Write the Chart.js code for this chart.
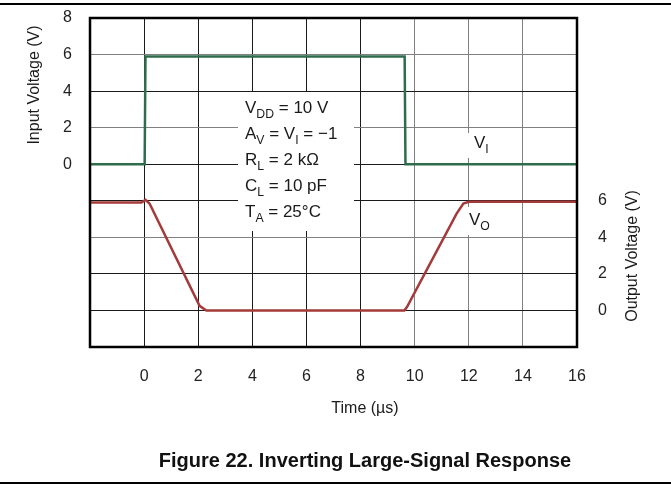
<!DOCTYPE html>
<html>
<head>
<meta charset="utf-8">
<script src="https://cdn.jsdelivr.net/npm/chart.js@4"></script>
<style>
    html, body { margin: 0; padding: 0; background: #fff; }
    #wrap { position: relative; width: 671px; height: 499px; overflow: hidden; }
    #chart { position: absolute; left: 0; top: 0; }
    .rule { position: absolute; left: 0; width: 671px; height: 2px; background: #000; }
    #caption {
        position: absolute; left: 0; top: 449px; width: 730px; line-height: 24px;
        text-align: center; font: bold 20px "Liberation Sans", Arial, sans-serif; color: #111;
    }
</style>
</head>
<body>
<div id="wrap">
    <div class="rule" style="top:3px"></div>
    <canvas id="chart" width="671" height="499"></canvas>
    <div id="caption">Figure 22. Inverting Large-Signal Response</div>
    <div class="rule" style="top:482px"></div>
</div>
<script>
// data
const inputTime = [-2, 0.02, 0.05, 9.63, 9.66, 16];
const inputVolt = [0, 0, 5.9, 5.9, 0, 0];

const outputTime = [-2, -0.1, 0.05, 0.2, 2.05, 2.3, 9.62, 9.72, 11.55, 11.8, 12.0, 16];
const outputVolt = [5.9, 5.9, 6.05, 5.85, 0.25, 0, 0, 0.2, 5.3, 5.85, 5.95, 5.95];

const timeLabels = [0, 2, 4, 6, 8, 10, 12, 14, 16];
const inputLabels = [0, 2, 4, 6, 8];
const outputLabels = [0, 2, 4, 6];

const conditions = [
    [["V"], ["DD", 1], [" = 10 V"]],
    [["A"], ["V", 1], [" = V"], ["I", 1], [" = \u22121"]],
    [["R"], ["L", 1], [" = 2 k\u03A9"]],
    [["C"], ["L", 1], [" = 10 pF"]],
    [["T"], ["A", 1], [" = 25\u00B0C"]]
];

const FONT = '"Liberation Sans", Arial, sans-serif';
const GREEN = "#2e6c4c";
const RED = "#a53a3a";

const toPoints = (xs, ys) => xs.map((x, i) => ({ x, y: ys[i] }));

// text with subscripts
function drawSub(ctx, x, y, parts, size) {
    parts.forEach(([txt, sub]) => {
        ctx.font = (sub ? size * 0.72 : size) + "px " + FONT;
        ctx.fillText(txt, x, sub ? y + size * 0.3 : y);
        x += ctx.measureText(txt).width;
    });
}

const notes = {
    id: "notes",
    beforeDatasetsDraw(chart) {
        const ctx = chart.ctx;
        ctx.save();
        ctx.fillStyle = "#fff";
        ctx.fillRect(238, 92, 116, 139);
        ctx.fillRect(466, 133, 28, 25);
        ctx.fillRect(466, 207, 34, 28);
        ctx.restore();
    },
    afterDatasetsDraw(chart) {
        const ctx = chart.ctx;
        const area = chart.chartArea;
        ctx.save();
        ctx.fillStyle = "#1a1a1a";
        ctx.textBaseline = "alphabetic";
        ctx.textAlign = "left";
        conditions.forEach((line, i) => drawSub(ctx, 245, 113 + i * 26, line, 17));
        drawSub(ctx, 474, 148, [["V"], ["I", 1]], 17);
        drawSub(ctx, 469, 225, [["V"], ["O", 1]], 17);

        // axis titles
        ctx.font = "16px " + FONT;
        ctx.textAlign = "center";
        ctx.textBaseline = "middle";
        ctx.fillText("Time (\u00B5s)", 365, 409);
        ctx.save();
        ctx.translate(35, 85);
        ctx.rotate(-Math.PI / 2);
        ctx.fillText("Input Voltage (V)", 0, 0);
        ctx.restore();
        ctx.save();
        ctx.translate(633, 256);
        ctx.rotate(-Math.PI / 2);
        ctx.fillText("Output Voltage (V)", 0, 0);
        ctx.restore();

        // frame
        ctx.strokeStyle = "#000";
        ctx.lineWidth = 2.5;
        ctx.strokeRect(area.left, area.top, area.right - area.left, area.bottom - area.top);
        ctx.restore();
    }
};

const gridColor = (greys) => (c) => greys.includes(c.tick.value) ? "#808080" : "#1a1a1a";

const fixV = (w) => (s) => { s.width = w; s.paddingTop = 0; s.paddingBottom = 0; };

new Chart(document.getElementById("chart"), {
    type: "line",
    data: {
        datasets: [
            {
                label: "VI",
                data: toPoints(inputTime, inputVolt),
                yAxisID: "y",
                borderColor: GREEN,
                borderWidth: 2.5,
                pointRadius: 0,
                tension: 0,
                fill: false
            },
            {
                label: "VO",
                data: toPoints(outputTime, outputVolt),
                yAxisID: "y2",
                borderColor: RED,
                borderWidth: 2.5,
                pointRadius: 0,
                tension: 0,
                fill: false
            }
        ]
    },
    options: {
        responsive: false,
        animation: false,
        layout: { padding: { top: 18, left: 0, right: 0, bottom: 0 } },
        plugins: { legend: { display: false }, tooltip: { enabled: false } },
        scales: {
            x: {
                type: "linear",
                min: -2,
                max: 16,
                ticks: {
                    stepSize: 2,
                    padding: 20,
                    color: "#222",
                    font: { family: FONT, size: 16 },
                    callback: v => timeLabels.includes(v) ? String(v) : ""
                },
                grid: { drawTicks: false, color: gridColor([10, 12, 14]), lineWidth: 1 },
                border: { display: false },
                afterFit: s => { s.height = 152; s.paddingLeft = 0; s.paddingRight = 0; }
            },
            y: {
                position: "left",
                min: -10,
                max: 8,
                ticks: {
                    stepSize: 2,
                    padding: 18,
                    color: "#222",
                    font: { family: FONT, size: 16 },
                    callback: v => inputLabels.includes(v) ? String(v) : ""
                },
                grid: { drawTicks: false, color: gridColor([6, 2, -4]), lineWidth: 1 },
                border: { display: false },
                afterFit: fixV(90)
            },
            y2: {
                position: "right",
                min: -2,
                max: 16,
                ticks: {
                    stepSize: 2,
                    padding: 21,
                    color: "#222",
                    font: { family: FONT, size: 16 },
                    callback: v => outputLabels.includes(v) ? String(v) : ""
                },
                grid: { display: false, drawTicks: false },
                border: { display: false },
                afterFit: fixV(94)
            }
        }
    },
    plugins: [notes]
});
</script>
</body>
</html>
